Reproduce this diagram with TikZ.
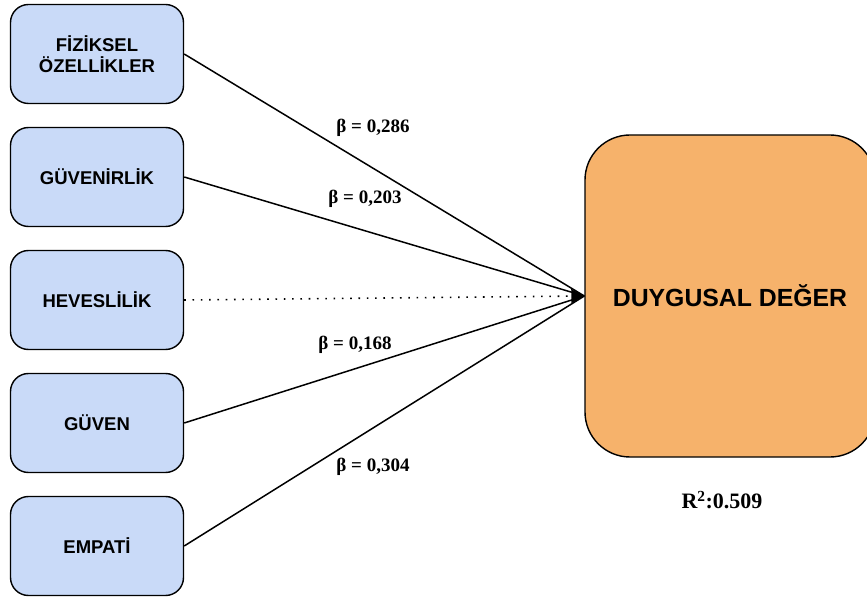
\documentclass[tikz,border=0pt]{standalone}
\usepackage{fontspec}
\setmainfont{Liberation Serif}
\newfontfamily\boxfont{Liberation Sans}
\usetikzlibrary{arrows.meta}
\definecolor{inbox}{HTML}{C9DAF8}
\definecolor{outbox}{HTML}{F6B26B}
\tikzset{
  factor/.style={draw=black, line width=1.4pt, fill=inbox, rounded corners=18pt,
    minimum width=173pt, minimum height=99pt, align=center, inner sep=0pt,
    font=\boxfont\bfseries\fontsize{18.5}{21}\selectfont},
  outcome/.style={draw=black, line width=1.4pt, fill=outbox, rounded corners=45pt,
    minimum width=290pt, minimum height=322pt, inner sep=0pt,
    font=\boxfont\bfseries\fontsize{24.8}{28}\selectfont},
  link/.style={line width=1.5pt},
  weak/.style={line width=1.6pt, dash pattern=on 1.6pt off 6.7pt,
    -{Triangle[length=13pt,width=14pt]}},
  coef/.style={font=\bfseries\fontsize{19}{22}\selectfont},
}
\begin{document}
\begin{tikzpicture}[x=1pt,y=-1pt]
  \useasboundingbox (0,0) rectangle (867,601);
  \clip (0,0) rectangle (867,601);
  \node[factor] (f1) at (97,54)  {FİZİKSEL\\ÖZELLİKLER};
  \node[factor] (f2) at (97,177) {GÜVENİRLİK};
  \node[factor] (f3) at (97,300) {HEVESLİLİK};
  \node[factor] (f4) at (97,423) {GÜVEN};
  \node[factor] (f5) at (97,546) {EMPATİ};
  \node[outcome] (dv) at (730,296) {DUYGUSAL DEĞER};

  \draw[link] (f1.east) -- (dv.west);
  \draw[link] (f2.east) -- (dv.west);
  \draw[link] (f4.east) -- (dv.west);
  \draw[link] (f5.east) -- (dv.west);
  \draw[weak] (f3.east) -- (dv.west);

  \node[coef] (b1) at (373,128) {β = 0,286};
  \node[coef] (b2) at (365,199) {β = 0,203};
  \node[coef] (b4) at (355,345) {β = 0,168};
  \node[coef] (b5) at (373,467) {β = 0,304};
  \node[font=\bfseries\fontsize{22}{26}\selectfont] (r2) at (722,500) {R\textsuperscript{2}:0.509};
\end{tikzpicture}
\end{document}
